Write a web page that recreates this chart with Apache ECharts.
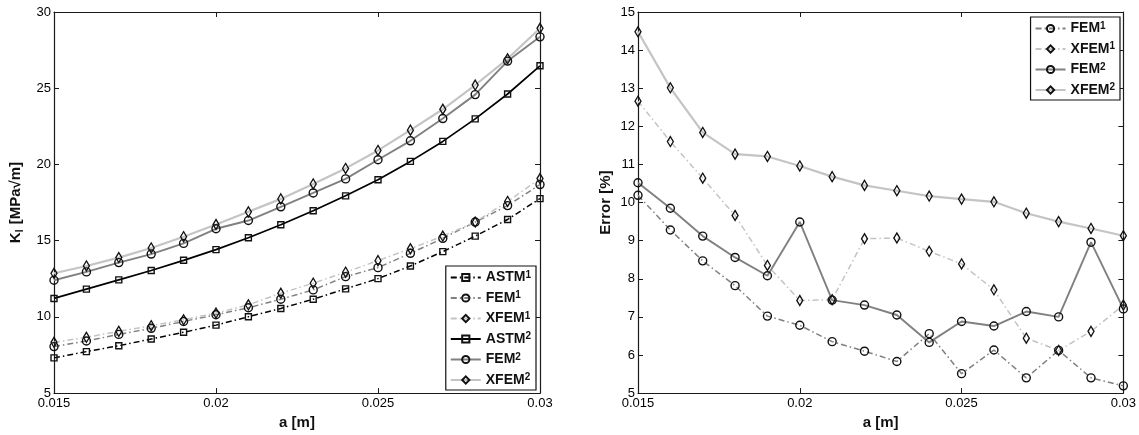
<!DOCTYPE html>
<html>
<head>
<meta charset="utf-8">
<script src="https://cdn.jsdelivr.net/npm/echarts@6/dist/echarts.min.js"></script>
<style>
  html, body { margin: 0; padding: 0; background: #fff; }
  #chart { width: 1139px; height: 435px; }
</style>
</head>
<body>
<div id="chart"></div>
<script>
// Crack length a [m]
const aValues = [0.015, 0.016, 0.017, 0.018, 0.019, 0.020, 0.021, 0.022,
                 0.023, 0.024, 0.025, 0.026, 0.027, 0.028, 0.029, 0.030];

// Stress intensity factor K_I [MPa√m]
const kAstm1 = [7.31, 7.72, 8.11, 8.55, 8.99, 9.46, 10.01, 10.55, 11.16, 11.84, 12.51, 13.34, 14.28, 15.30, 16.39, 17.76];
const kFem1  = [8.05, 8.42, 8.85, 9.25, 9.70, 10.14, 10.60, 11.16, 11.77, 12.64, 13.23, 14.17, 15.15, 16.22, 17.30, 18.68];
const kXfem1 = [8.33, 8.66, 9.05, 9.42, 9.81, 10.25, 10.79, 11.55, 12.21, 12.93, 13.69, 14.47, 15.30, 16.22, 17.57, 19.07];
const kAstm2 = [11.21, 11.82, 12.43, 13.04, 13.71, 14.41, 15.19, 16.04, 16.96, 17.94, 19.00, 20.20, 21.51, 22.99, 24.62, 26.47];
const kFem2  = [12.40, 12.95, 13.56, 14.12, 14.82, 15.78, 16.32, 17.22, 18.13, 19.05, 20.31, 21.55, 23.01, 24.58, 26.78, 28.37];
const kXfem2 = [12.86, 13.34, 13.89, 14.52, 15.26, 16.06, 16.89, 17.74, 18.72, 19.74, 20.92, 22.25, 23.62, 25.21, 26.93, 28.93];

// Error relative to ASTM [%]
const eFem1  = [10.19, 9.28, 8.47, 7.82, 7.02, 6.78, 6.35, 6.10, 5.83, 6.56, 5.51, 6.13, 5.40, 6.12, 5.40, 5.19];
const eXfem1 = [12.66, 11.60, 10.64, 9.66, 8.35, 7.43, 7.45, 9.05, 9.07, 8.72, 8.39, 7.71, 6.44, 6.12, 6.62, 7.31];
const eFem2  = [10.52, 9.85, 9.12, 8.56, 8.08, 9.49, 7.44, 7.31, 7.05, 6.33, 6.88, 6.76, 7.14, 7.00, 8.96, 7.21];
const eXfem2 = [14.48, 13.01, 11.84, 11.27, 11.21, 10.96, 10.68, 10.45, 10.31, 10.17, 10.09, 10.02, 9.72, 9.50, 9.32, 9.13];

const FONT = '"Liberation Sans", Arial, Helvetica, sans-serif';
const AXIS_COLOR = '#1a1a1a';
const DASH_DOT = [6, 3, 1.5, 3];

const styles = {
  ASTM: { color: '#000000', symbol: 'rect', size: 6, width: 1.7 },
  FEM:  { color: '#808080', symbol: 'circle', size: 8, width: 1.9 },
  XFEM: { color: '#c4c4c4', symbol: 'diamond', size: [6, 10], width: 2.2 }
};

function pairs(values) {
  return aValues.map((a, i) => [a, values[i]]);
}

// One line series on the given grid (axis index 0 = left panel, 2 = right panel)
function makeSeries(name, kind, dashed, values, axisIdx) {
  const s = styles[kind];
  return {
    name: name,
    type: 'line',
    xAxisIndex: axisIdx,
    yAxisIndex: axisIdx,
    data: pairs(values),
    symbol: s.symbol,
    symbolSize: s.size,
    showAllSymbol: true,
    lineStyle: { color: s.color, width: dashed ? 1.5 : s.width, type: dashed ? DASH_DOT : 'solid' },
    itemStyle: { color: 'rgba(255,255,255,0)', borderColor: '#111', borderWidth: 1.4 },
    emphasis: { disabled: true },
    animation: false
  };
}

function xAxes(gridIndex) {
  const base = {
    type: 'value', gridIndex: gridIndex, min: 0.015, max: 0.03, interval: 0.005,
    axisLine: { show: true, lineStyle: { color: AXIS_COLOR, width: 1.2 } },
    axisTick: { show: true, inside: true, length: 5, lineStyle: { color: AXIS_COLOR } },
    splitLine: { show: false }
  };
  return [
    Object.assign({}, base, {
      position: 'bottom',
      name: 'a [m]', nameLocation: 'middle', nameGap: 20,
      nameTextStyle: { fontFamily: FONT, fontSize: 15, fontWeight: 'bold', color: '#111' },
      axisLabel: { fontFamily: FONT, fontSize: 13, color: '#000', margin: 4,
                   formatter: v => String(+v.toFixed(4)) }
    }),
    Object.assign({}, base, { position: 'top', axisLabel: { show: false } })
  ];
}

function yAxes(gridIndex, min, max, interval, name, nameGap) {
  const base = {
    type: 'value', gridIndex: gridIndex, min: min, max: max, interval: interval,
    axisLine: { show: true, lineStyle: { color: AXIS_COLOR, width: 1.2 } },
    axisTick: { show: true, inside: true, length: 5, lineStyle: { color: AXIS_COLOR } },
    splitLine: { show: false }
  };
  return [
    Object.assign({}, base, {
      position: 'left',
      name: name, nameLocation: 'middle', nameGap: nameGap, nameRotate: 90,
      nameTextStyle: {
        fontFamily: FONT, fontSize: 15, fontWeight: 'bold', color: '#111',
        rich: { sub: { fontFamily: FONT, fontSize: 10, fontWeight: 'bold', color: '#111', padding: [9, 1, 0, 0] } }
      },
      axisLabel: { fontFamily: FONT, fontSize: 13, color: '#000', margin: 3 }
    }),
    Object.assign({}, base, { position: 'right', axisLabel: { show: false } })
  ];
}

function legendFor(names, pos) {
  return Object.assign({
    orient: 'vertical',
    data: names,
    itemWidth: 30,
    itemHeight: 9,
    itemGap: 6,
    padding: [4, 5, 3, 4],
    backgroundColor: '#ffffff',
    borderColor: '#111',
    borderWidth: 1.2,
    borderRadius: 0,
    selectedMode: false,
    formatter: n => n.trim().replace(/(\d)$/, '{sup|$1}'),
    textStyle: {
      fontFamily: FONT, fontSize: 14, fontWeight: 'bold', color: '#111',
      rich: { sup: { fontFamily: FONT, fontSize: 10, fontWeight: 'bold', color: '#111', padding: [0, 0, 5, 0] } }
    }
  }, pos);
}

const leftNames = ['ASTM1', 'FEM1', 'XFEM1', 'ASTM2', 'FEM2', 'XFEM2'];
// The right panel's entries carry a trailing space so they stay distinct from the left ones
const rightNames = ['FEM1 ', 'XFEM1 ', 'FEM2 ', 'XFEM2 '];

const option = {
  backgroundColor: '#ffffff',
  animation: false,
  grid: [
    { left: 54, right: 599, top: 12, bottom: 41 },
    { left: 638, right: 15, top: 12, bottom: 41 }
  ],
  xAxis: xAxes(0).concat(xAxes(1)),
  yAxis: yAxes(0, 5, 30, 5, 'K{sub|I} [MPa√m]', 29).concat(yAxes(1, 5, 15, 1, 'Error [%]', 25)),
  legend: [
    legendFor(leftNames, { right: 603, top: 266 }),
    legendFor(rightNames, { right: 19, top: 17 })
  ],
  series: [
    makeSeries('ASTM1', 'ASTM', true, kAstm1, 0),
    makeSeries('FEM1', 'FEM', true, kFem1, 0),
    makeSeries('XFEM1', 'XFEM', true, kXfem1, 0),
    makeSeries('ASTM2', 'ASTM', false, kAstm2, 0),
    makeSeries('FEM2', 'FEM', false, kFem2, 0),
    makeSeries('XFEM2', 'XFEM', false, kXfem2, 0),
    makeSeries('FEM1 ', 'FEM', true, eFem1, 2),
    makeSeries('XFEM1 ', 'XFEM', true, eXfem1, 2),
    makeSeries('FEM2 ', 'FEM', false, eFem2, 2),
    makeSeries('XFEM2 ', 'XFEM', false, eXfem2, 2)
  ]
};

const chart = echarts.init(document.getElementById('chart'), null, { renderer: 'canvas' });
chart.setOption(option);
</script>
</body>
</html>
